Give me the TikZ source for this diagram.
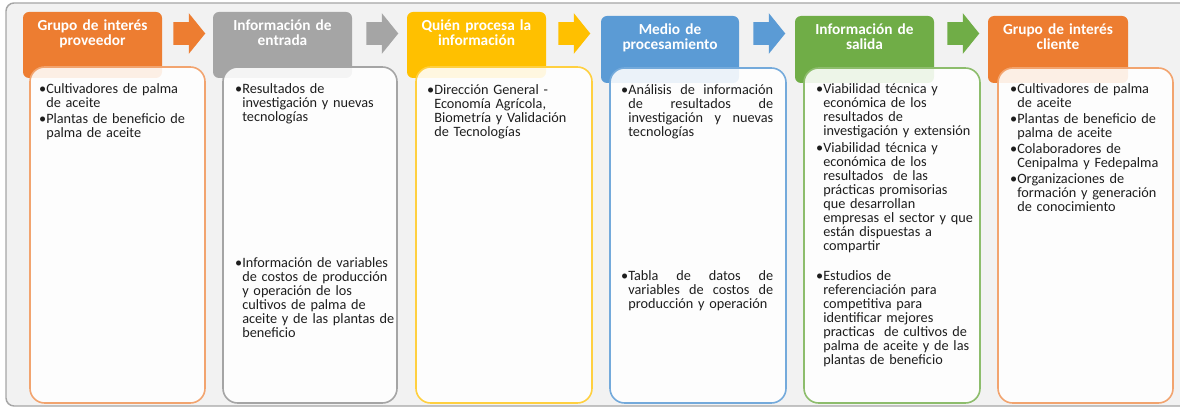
\documentclass[tikz,border=0pt]{standalone}
\usepackage{fontspec}
\setmainfont{Carlito}
\usepackage{xcolor}
\usepackage{tikz}
\usetikzlibrary{fit,shapes.arrows}

\definecolor{cOrange}{HTML}{ED7D31}
\definecolor{cGray}{HTML}{A5A5A5}
\definecolor{cYellow}{HTML}{FFC000}
\definecolor{cBlue}{HTML}{5B9BD5}
\definecolor{cGreen}{HTML}{70AD47}
\definecolor{frameFill}{HTML}{F2F2F2}
\definecolor{frameLine}{HTML}{A6A6A6}
\definecolor{txtcol}{HTML}{1E1E1E}

\newcommand{\bul}{\leavevmode\llap{\textbullet}}
\newcommand{\jl}[1]{\leavevmode\hbox to 108.75pt{#1}}

\begin{document}
\begin{tikzpicture}[x=0.75pt,y=-0.75pt,
                head/.style = {rounded corners=4.5pt, inner sep=0pt},
                body/.style = {fill=white, fill opacity=0.88, rounded corners=11pt,
                               line width=1.2pt, inner sep=0pt},
                arw/.style = {single arrow, anchor=tail, single arrow head extend=6.75pt,
                              single arrow tip angle=102, inner xsep=0pt, inner ysep=8.25pt,
                              minimum height=24pt},
                title/.style = {anchor=base, text width=104pt, align=center, text=white,
                                inner sep=0pt, font=\fontsize{11.5}{11.25}\selectfont\bfseries},
                txt/.style = {anchor=base west, text width=115pt, align=left, text=txtcol,
                              inner sep=0pt, font=\fontsize{10.7}{10.5}\selectfont}]
            \useasboundingbox (0,0) rectangle (1180,409);
            % Frame
            \draw[fill=frameFill, draw=frameLine, line width=1.1pt, rounded corners=6pt]
                (6,3) rectangle (1195,406);

            % Headers
            \node[head, fill=cOrange, fit={(23,12) (162,78)}] (h1) {};
            \node[head, fill=cGray, fit={(213,12) (352,78)}] (h2) {};
            \node[head, fill=cYellow, fit={(407,12) (546,78)}] (h3) {};
            \node[head, fill=cBlue, fit={(601,16) (739,83)}] (h4) {};
            \node[head, fill=cGreen, fit={(795,16) (934,83)}] (h5) {};
            \node[head, fill=cOrange, fit={(988,16) (1128,83)}] (h6) {};

            \node[title] (t1) at (92.5,31) {Grupo de interés\\ proveedor};
            \node[title] (t2) at (282.5,31) {Información de\\ entrada};
            \node[title] (t3) at (476.5,31) {Quién procesa la\\ información};
            \node[title] (t4) at (670,35) {Medio de\\ procesamiento};
            \node[title] (t5) at (864.5,35) {Información de\\ salida};
            \node[title] (t6) at (1058,35) {Grupo de interés\\ cliente};

            % Arrows
            \node[arw, fill=cOrange] (a1) at (173,33.5) {};
            \node[arw, fill=cGray] (a2) at (366,33.5) {};
            \node[arw, fill=cYellow] (a3) at (558,33.5) {};
            \node[arw, fill=cBlue] (a4) at (753,33.5) {};
            \node[arw, fill=cGreen] (a5) at (947,33.5) {};

            % Boxes
            \node[body, draw=cOrange!70!white, fit={(30,67) (205,403)}] (b1) {};
            \node[body, draw=cGray, fit={(223,67) (397,403)}] (b2) {};
            \node[body, draw=cYellow!75!white, fit={(416,67) (592,403)}] (b3) {};
            \node[body, draw=cBlue!85!white, fit={(610,68) (786,403)}] (b4) {};
            \node[body, draw=cGreen!80!white, fit={(804,68) (980,403)}] (b5) {};
            \node[body, draw=cOrange!70!white, fit={(998,68) (1173,403)}] (b6) {};

            % Texts
            \node[txt] (p1) at (46,94) {\bul Cultivadores de palma\\ de aceite\\[1.5pt]
                \bul Plantas de beneficio de\\ palma de aceite};
            \node[txt] (p2) at (242,94) {\bul Resultados de\\ investigación y nuevas\\ tecnologías};
            \node[txt] (p2b) at (242,267.5) {\bul Información de variables\\ de costos de producción\\
                y operación de los\\ cultivos de palma de\\ aceite y de las plantas de\\ beneficio};
            \node[txt] (p3) at (434,95) {\bul Dirección General -\\ Economía Agrícola,\\
                Biometría y Validación\\ de Tecnologías};
            \node[txt] (p4) at (628,95) {\bul\jl{Análisis\hfill de\hfill información}\\
                \jl{de\hfill resultados\hfill de}\\
                \jl{investigación\hfill y\hfill nuevas}\\ tecnologías};
            \node[txt] (p4b) at (628,281) {\bul\jl{Tabla\hfill de\hfill datos\hfill de}\\
                \jl{variables\hfill de\hfill costos\hfill de}\\ producción y operación};
            \node[txt] (p5) at (823,94) {\bul Viabilidad técnica y\\ económica de los\\ resultados de\\
                investigación y extensión\\[2pt]
                \bul Viabilidad técnica y\\ económica de los\\ resultados~ de las\\ prácticas promisorias\\
                que desarrollan\\ empresas el sector y que\\ están dispuestas a\\ compartir};
            \node[txt] (p5b) at (823,281) {\bul Estudios de\\ referenciación para\\ competitiva para\\
                identificar mejores\\ practicas~ de cultivos de\\ palma de aceite y de las\\ plantas de beneficio};
            \node[txt] (p6) at (1017,94) {\bul Cultivadores de palma\\ de aceite\\[1.5pt]
                \bul Plantas de beneficio de\\ palma de aceite\\[1.5pt]
                \bul Colaboradores de\\ Cenipalma y Fedepalma\\[1.5pt]
                \bul Organizaciones de\\ formación y generación\\ de conocimiento};
        \end{tikzpicture}
\end{document}
